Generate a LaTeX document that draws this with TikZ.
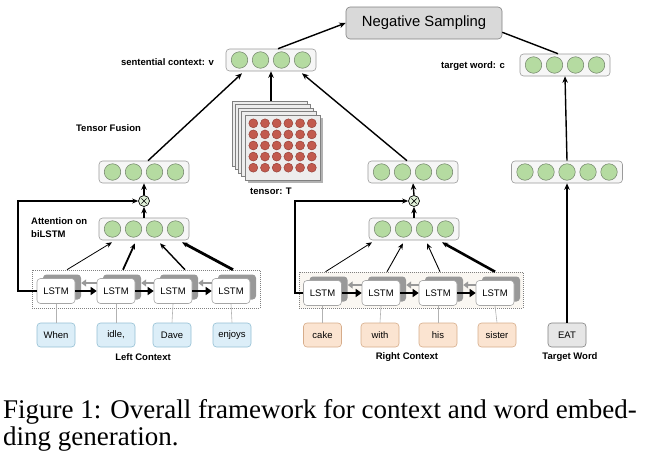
\documentclass[tikz,border=0pt]{standalone}
\usepackage{fontspec}
\setmainfont{Liberation Serif}
\setsansfont{Liberation Sans}
\usetikzlibrary{arrows.meta,calc}
\definecolor{cgreen}{HTML}{B5DBA1}
\definecolor{cgreenb}{HTML}{6E7F66}
\definecolor{vecfill}{HTML}{F6F6F6}
\definecolor{vecdraw}{HTML}{9A9A9A}
\definecolor{tred}{HTML}{C25A4E}
\definecolor{tredb}{HTML}{8E3A33}
\definecolor{sheet}{HTML}{EDEDED}
\definecolor{bluef}{HTML}{DCEEF8}
\definecolor{blued}{HTML}{93BFD4}
\definecolor{peachf}{HTML}{FBE4D1}
\definecolor{peachd}{HTML}{D6AC8A}
\definecolor{greyf}{HTML}{E6E6E6}
\definecolor{nsfill}{HTML}{D9D9D9}
\definecolor{beige}{HTML}{FAF7F2}
\newcommand\myvec[4]{%
  \node[vecbox, minimum width={21*#4+6}] (#1) at (#2,#3) {};
  \foreach \i in {1,...,#4} {\node[circ] (#1c\i) at ($(#1)+({(\i-(#4+1)/2)*21},0)$) {};}
}
\begin{document}
\begin{tikzpicture}[x=1pt,y=-1pt,
  vecbox/.style={draw=vecdraw, fill=vecfill, rounded corners=3.5pt, minimum height=22pt, inner sep=0pt, line width=0.6pt},
  circ/.style={circle, draw=cgreenb, fill=cgreen, minimum size=16.5pt, inner sep=0pt, line width=0.5pt},
  lab/.style={font=\sffamily\bfseries\fontsize{9.5}{11}\selectfont, inner sep=0pt},
  lstm/.style={draw=gray!70, fill=white, rounded corners=3.5pt, minimum width=38pt, minimum height=25pt, inner sep=0pt, font=\sffamily\fontsize{9.5}{11}\selectfont, line width=0.6pt},
  lstmsh/.style={fill=black!40, rounded corners=3.5pt, minimum width=38pt, minimum height=25pt, inner sep=0pt},
  word/.style={rounded corners=3.5pt, minimum width=38pt, minimum height=24pt, inner sep=0pt, font=\sffamily\fontsize{9.5}{11}\selectfont, line width=0.6pt},
  conn/.style={line width=1.4pt, -{Stealth[length=6.5pt,width=5.5pt]}},
  plain/.style={line width=1.4pt},
  att/.style={-{Stealth[length=6pt,width=5pt]}},
  fwd/.style={line width=2.6pt, -{Triangle[length=6pt,width=8pt]}},
  bwd/.style={line width=2.4pt, draw=black!40, -{Triangle[length=5pt,width=7pt]}},
  fb/.style={line width=1.3pt, -{Stealth[length=6pt,width=5pt]}},
  otimes/.style={circle, draw=black, fill=cgreen!40, minimum size=11pt, inner sep=0pt, line width=0.7pt},
  dotbox/.style={draw=gray, dash pattern=on 1pt off 1pt, line width=0.5pt},
  sheetst/.style={draw=gray, fill=sheet, line width=0.5pt, minimum width=75pt, minimum height=65pt, inner sep=0pt},
  capt/.style={anchor=base west, inner sep=0pt, font=\fontsize{27}{27}\selectfont}
]
\useasboundingbox (0,0) rectangle (648,458);

% Negative sampling
\node[draw=gray, fill=nsfill, rounded corners=4pt, minimum width=156pt, minimum height=32pt, inner sep=0pt, font=\sffamily\fontsize{14.8}{16}\selectfont, line width=0.6pt] (ns) at (424,23) {Negative Sampling};

% vectors
\myvec{v}{271}{60}{4}
\myvec{c}{565}{65}{4}
\myvec{fl}{144}{172}{4}
\myvec{fr}{413}{172}{4}
\myvec{tw}{567}{172}{5}
\myvec{al}{144}{229}{4}
\myvec{ar}{414}{229}{4}

% labels
\node[lab, anchor=east] (lv) at (214,62) {sentential context: v};
\node[lab, anchor=east] (lc) at (505,66) {target word: c};
\node[lab] (ltf) at (108.5,128) {Tensor Fusion};
\node[lab] (lt) at (271,191) {tensor: T};
\node[lab, anchor=north west, align=left, font=\sffamily\bfseries\fontsize{9.5}{13}\selectfont] (lab1) at (31,217) {Attention on\\biLSTM};
\node[lab] (llc) at (143,357) {Left Context};
\node[lab] (lrc) at (407,357) {Right Context};
\node[lab] (ltw) at (570,357) {Target Word};

% tensor
\foreach \k in {4,3,2,1} {\node[sheetst] (sh\k) at ({282.5-3.3*\k},{147.5-3.5*\k}) {};}
\fill[black!30] (248,183) rectangle (323,118);
\node[sheetst] (sh0) at (282.5,147.5) {};
\foreach \i in {0,...,5} {\foreach \j in {0,...,4} {
  \node[circle, draw=tredb, fill=tred, minimum size=9pt, inner sep=0pt, line width=0.4pt] (td\i\j) at ({253.3+11.7*\i},{123.3+11.1*\j}) {};}}

% otimes
\node[otimes] (ol) at (144,201) {};
\draw[line width=0.7pt] ($(ol)+(-2.6,-2.6)$) -- ($(ol)+(2.6,2.6)$) ($(ol)+(-2.6,2.6)$) -- ($(ol)+(2.6,-2.6)$);
\node[otimes] (or) at (414,201) {};
\draw[line width=0.7pt] ($(or)+(-2.6,-2.6)$) -- ($(or)+(2.6,2.6)$) ($(or)+(-2.6,2.6)$) -- ($(or)+(2.6,-2.6)$);

% dotted boxes
\draw[dotbox, fill=white] (32,270) rectangle (260,308);
\draw[dotbox, fill=beige] (299,272) rectangle (523,308);

% LSTM left
\foreach \n/\x in {1/56,2/116,3/173,4/231} {
  \node[lstmsh] (lsh\n) at ({\x+6},{291-4}) {};
  \node[lstm] (l\n) at (\x,291) {LSTM};
}
% LSTM right
\foreach \n/\x in {1/322.5,2/381,3/438,4/495} {
  \node[lstmsh] (rsh\n) at ({\x+6},{293-4}) {};
  \node[lstm] (r\n) at (\x,293) {LSTM};
}
% words
\foreach \n/\x/\t in {1/56/When,2/116/{idle,},3/172/Dave,4/232/enjoys} {
  \node[word, draw=blued, fill=bluef] (wl\n) at (\x,335) {\t};
  \draw[gray!60, line width=0.6pt] (wl\n.north) -- (l\n.south);
}
\foreach \n/\x/\t in {1/322.5/cake,2/380/with,3/438/his,4/497/sister} {
  \node[word, draw=peachd, fill=peachf] (wr\n) at (\x,335) {\t};
  \draw[gray!60, line width=0.6pt] (wr\n.north) -- (r\n.south);
}
\node[word, draw=gray, fill=greyf] (eat) at (567,335) {EAT};

% biLSTM arrows
\foreach \a/\b in {1/2,2/3,3/4} {
  \draw[bwd] ($(l\b.west)+(0,-8)$) -- ($(lsh\a.east)+(0,-4)$);
  \draw[fwd] (l\a.east) -- (l\b.west);
  \draw[bwd] ($(r\b.west)+(0,-8)$) -- ($(rsh\a.east)+(0,-4)$);
  \draw[fwd] (r\a.east) -- (r\b.west);
}

% attention arrows left
\draw[att, line width=0.8pt] ($(l1.north)+(11,-8.5)$) -- ($(al.south)+(-32,2)$);
\draw[att, line width=1.8pt] ($(l2.north)+(7,-8.5)$) -- ($(al.south)+(-9,3)$);
\draw[att, line width=1.4pt] ($(l3.north)+(12,-8.5)$) -- ($(al.south)+(16,3)$);
\draw[att, line width=2.8pt] ($(l4.north)+(2,-8.5)$) -- ($(al.south)+(38,2)$);
% attention arrows right
\draw[att, line width=0.8pt] ($(r1.north)+(3,-8.5)$) -- ($(ar.south)+(-42,2)$);
\draw[att, line width=0.9pt] ($(r2.north)+(6,-8.5)$) -- ($(ar.south)+(-11,3)$);
\draw[att, line width=0.9pt] ($(r3.north)+(2,-8.5)$) -- ($(ar.south)+(13,3)$);
\draw[att, line width=2.6pt] ($(r4.north)+(0,-8.5)$) -- ($(ar.south)+(28,2)$);

% feedback lines
\draw[fb] (l1.west) -- (18,291) -- (18,201) -- (ol.west);
\draw[fb] (r1.west) -- (295,293) -- (295,201) -- (or.west);

% short arrows
\draw[conn] (al.north) -- (ol.south);
\draw[conn] (ol.north) -- (fl.south);
\draw[conn] (ar.north) -- (or.south);
\draw[conn] (or.north) -- (fr.south);

% top connectors
\draw[conn] ($(fl.north)+(4,0)$) -- ($(v.south)+(-29,2)$);
\draw[conn] (sh4.north -| v.south) -- (v.south);
\draw[conn] ($(fr.north)+(-6,0)$) -- ($(v.south)+(31,2)$);
\draw[conn] ($(v.north)+(7,0)$) -- (ns.west);
\draw[plain] ($(ns.south east)+(0,-7)$) -- ($(c.north)+(-7,0)$);
\draw[conn] (eat.north) -- (tw.south);
\draw[conn] (tw.north) -- (c.south);

% caption
\node[capt] (cap1) at (3,418) {Figure 1: Overall framework for context and word embed-};
\node[capt] (cap2) at (3,445) {ding generation.};
\end{tikzpicture}
\end{document}
